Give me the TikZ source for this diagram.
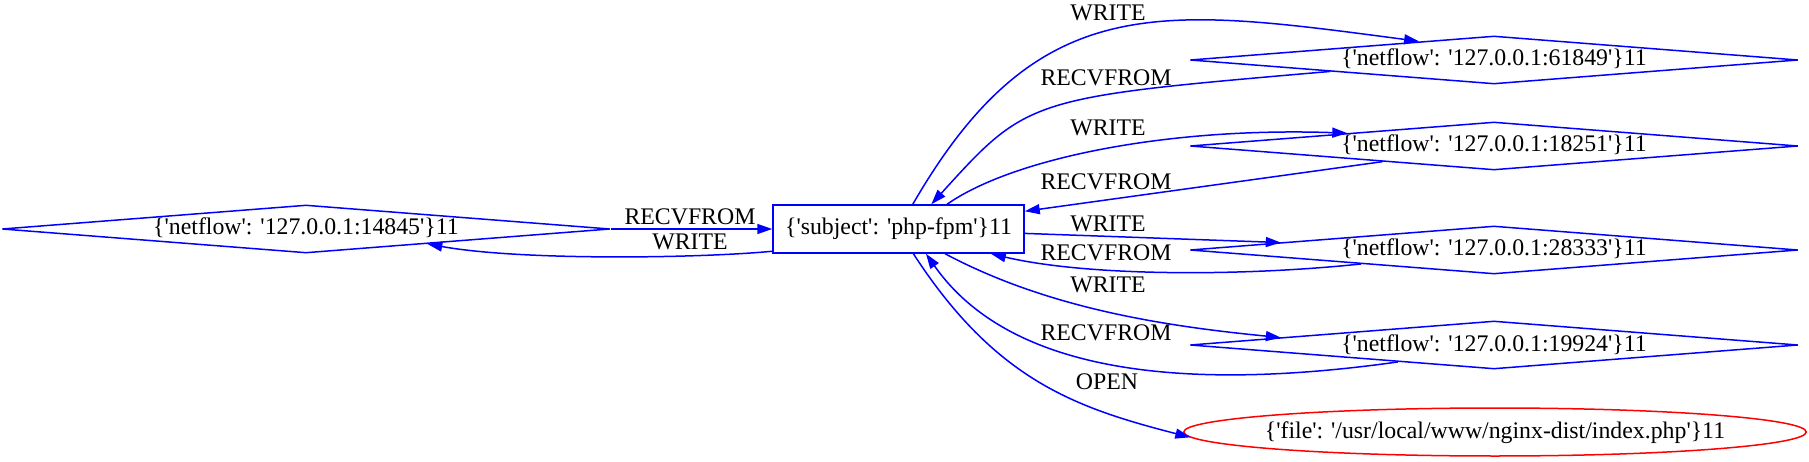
\documentclass[tikz,border=0pt]{standalone}
\usepackage{fontspec}
\newfontfamily\gvfont{Liberation Serif}
\usetikzlibrary{shapes.geometric,arrows.meta}
\tikzset{
  netflow/.style={diamond,aspect=12.67,draw=blue,line width=1.5pt,minimum width=608pt,minimum height=48pt,inner sep=0pt,text height=12pt,text depth=0pt},
  subject/.style={rectangle,draw=blue,line width=1.5pt,minimum width=251pt,minimum height=48pt,inner sep=0pt},
  fileobj/.style={ellipse,draw=red,line width=1.5pt,minimum width=614pt,minimum height=48pt,inner xsep=-10pt,inner ysep=0pt,text height=12pt,text depth=0pt},
  edgelbl/.style={inner sep=0pt},
  edge/.style={draw=blue,line width=1.5pt,-{Triangle[length=15pt,width=10pt]}}
}
\begin{document}
\begin{tikzpicture}[x=1pt,y=1pt,font=\gvfont\fontsize{23.8pt}{28pt}\selectfont]
      \useasboundingbox (0,0) rectangle (1809,461);
      \path
        (306,232) node[netflow] (nf14845){\{'netflow': '127.0.0.1:14845'\}11}
        (898.5,232) node[subject] (php){\{'subject': 'php-fpm'\}11}
        (1494,401) node[netflow] (nf61849){\{'netflow': '127.0.0.1:61849'\}11}
        (1494,315) node[netflow] (nf18251){\{'netflow': '127.0.0.1:18251'\}11}
        (1494,211) node[netflow] (nf28333){\{'netflow': '127.0.0.1:28333'\}11}
        (1494,116) node[netflow] (nf19924){\{'netflow': '127.0.0.1:19924'\}11}
        (1495,29) node[fileobj] (index){\{'file': '/usr/local/www/nginx-dist/index.php'\}11};
      \path
        (690,244) node[edgelbl] (lrecv0){RECVFROM}
        (690,219) node[edgelbl] (lwrite0){WRITE}
        (1108,448) node[edgelbl] (lwrite1){WRITE}
        (1106,383) node[edgelbl] (lrecv1){RECVFROM}
        (1108,333) node[edgelbl] (lwrite2){WRITE}
        (1106,279) node[edgelbl] (lrecv2){RECVFROM}
        (1108,237) node[edgelbl] (lwrite3){WRITE}
        (1106,208) node[edgelbl] (lrecv3){RECVFROM}
        (1108,176) node[edgelbl] (lwrite4){WRITE}
        (1106,128) node[edgelbl] (lrecv4){RECVFROM}
        (1107,79) node[edgelbl] (lopen){OPEN};
      \begin{scope}[edge]
        \draw (nf14845.east) -- (php.west);
        \draw (php.190) .. controls +(-73,-7) and +(94,-17) .. (nf14845.-7);
        \draw (php.60) .. controls +(60:250) and +(172.5:260) .. (nf61849.166);
        \draw (nf61849.184) .. controls +(-302,-26) .. (php.37);
        \draw (php.27) .. controls +(35:80) and +(178:180) .. (nf18251.175);
        \draw (nf18251.188) -- (php.8);
        \draw (php.-2) -- (nf28333.178);
        \draw (nf28333.186) .. controls +(186:120) and +(-13.2:100) .. (php.-15);
        \draw (php.-28) .. controls +(-28:115) and +(174.4:120) .. (nf19924.178);
        \draw (nf19924.190) .. controls +(188:250) and +(-55:130) .. (php.-42);
        \draw (php.-59) .. controls +(-57:150) and +(165.6:120) .. (index.181);
      \end{scope}
    \end{tikzpicture}
\end{document}
